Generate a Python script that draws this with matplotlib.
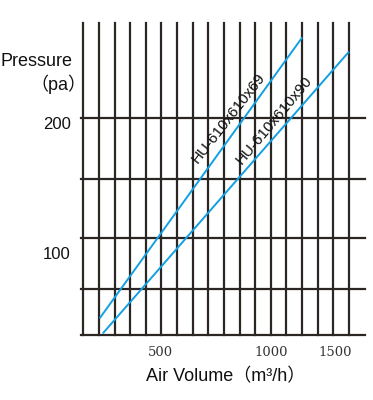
import numpy as np
import matplotlib
matplotlib.use('Agg')
import matplotlib.pyplot as plt
from matplotlib.ticker import NullLocator, NullFormatter

plt.rcParams['font.family'] = ['Liberation Sans', 'Noto Sans CJK SC', 'DejaVu Sans']

# 两条阻力曲线（从图上读出的端点）
air_69 = [342, 1215]
pres_69 = [71, 315]
air_90 = [349, 1630]
pres_90 = [65.5, 292]

x_ticks = [500, 1000, 1500]
y_ticks = [100, 200]
curve_names = ['HU-610x610x69', 'HU-610x610x90']

W, H = 373, 400
grid_c = '#2b2523'
blue = '#12a0e2'

fig = plt.figure(figsize=(W / 100, H / 100), dpi=100)
# 坐标区：左82 右365 上23 下335 (像素)
ax = fig.add_axes([82 / W, (H - 335) / H, 283 / W, 312 / H])
ax.set_xscale('log')
ax.set_yscale('log')
ax.set_xlim(305, 1809)
ax.set_ylim(64.7, 341.4)
for a in (ax.xaxis, ax.yaxis):
    a.set_minor_locator(NullLocator())
    a.set_minor_formatter(NullFormatter())
for s in ax.spines.values():
    s.set_visible(False)

# 网格线（原图是等距竖线 + 不等距横线）
for px in np.linspace(83.3, 349, 18):
    fx = (px - 82) / 283
    ax.plot([fx, fx], [0, 1], color=grid_c, lw=1.6, transform=ax.transAxes,
            clip_on=False)
for py in [118.3, 179, 237.5, 288.5, 335]:
    fy = (335 - py) / 312
    ax.plot([-0.005, 1.0], [fy, fy], color=grid_c, lw=1.6,
            transform=ax.transAxes, clip_on=False)

ax.plot(air_69, pres_69, color=blue, lw=1.4, zorder=3)
ax.plot(air_90, pres_90, color=blue, lw=1.4, zorder=3)

ax.text(769, 206, curve_names[0], rotation=52, rotation_mode='anchor',
        ha='center', va='center', fontsize=11, color='#111')
ax.text(1021, 203.6, curve_names[1], rotation=50, rotation_mode='anchor',
        ha='center', va='center', fontsize=11, color='#111')

ax.set_xticks(x_ticks)
ax.set_xticklabels([str(v) for v in x_ticks], fontfamily='DejaVu Serif',
                   fontsize=9.5, color='#333')
ax.set_yticks(y_ticks)
ax.set_yticklabels([str(v) for v in y_ticks], fontsize=12, color='#111')
ax.tick_params(axis='x', length=0, pad=8)
ax.tick_params(axis='y', length=0, pad=8)

fig.text(1 / W, 1 - 62 / H, 'Pressure', fontsize=13, ha='left', va='center',
         color='#111')
fig.text(86 / W, 1 - 84 / H, '（pa）', fontsize=13, ha='right', va='center',
         color='#111')
fig.text(226 / W, 1 - 377 / H, 'Air Volume（m³/h）', fontsize=13,
         ha='center', va='center', color='#111')

fig.savefig('out.png', dpi=100)
